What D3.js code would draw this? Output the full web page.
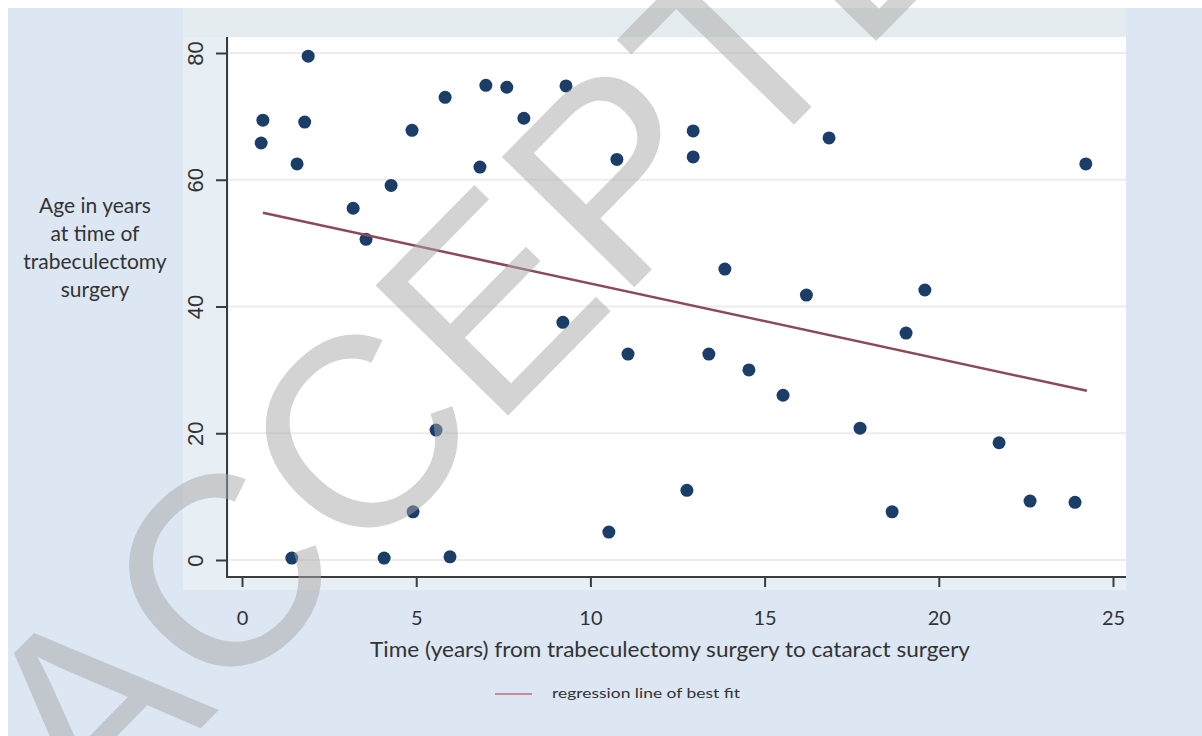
<!DOCTYPE html>
<html>
<head>
<meta charset="utf-8">
<script src="https://cdn.jsdelivr.net/npm/d3@7"></script>
<style>
  body { margin: 0; background: #fff; }
  svg { display: block; }
</style>
</head>
<body>
<div id="chart"></div>
<script>
// scatter of age vs time between surgeries
const timeYears = [0.55, 0.6, 1.43, 1.58, 1.8, 1.9, 3.19, 3.56, 4.28, 4.08, 4.88, 4.91, 5.57, 5.83, 5.97,
  6.83, 7.0, 7.6, 8.09, 9.3, 9.21, 10.53, 10.76, 11.08, 12.95, 12.95, 12.77, 13.4, 13.86, 14.55,
  15.53, 16.2, 16.85, 17.74, 18.66, 19.06, 19.6, 21.73, 22.62, 23.91, 24.22];
const ageYears = [65.8, 69.4, 0.3, 62.5, 69.1, 79.5, 55.5, 50.6, 59.1, 0.3, 67.8, 7.6, 20.5, 73.0, 0.5,
  62.0, 74.9, 74.6, 69.7, 74.8, 37.5, 4.4, 63.2, 32.5, 67.7, 63.6, 11.0, 32.5, 45.9, 30.0,
  26.0, 41.8, 66.6, 20.8, 7.6, 35.8, 42.6, 18.5, 9.3, 9.1, 62.5];

// regression line end points
const fitX = [0.6, 24.25];
const fitY = [54.8, 26.7];

const xTicks = [0, 5, 10, 15, 20, 25];
const yTicks = [0, 20, 40, 60, 80];
const yTitleLines = ['Age in years', 'at time of', 'trabeculectomy', 'surgery'];
const xTitle = 'Time (years) from trabeculectomy surgery to cataract surgery';
const legendLabel = 'regression line of best fit';
const watermark = 'ACCEPTED';

const W = 1202, H = 736;
const plot = { left: 229, right: 1126, top: 37, bottom: 577 };

const svg = d3.select('#chart').append('svg').attr('width', W).attr('height', H);

// backgrounds
svg.append('rect').attr('x', 8).attr('y', 8).attr('width', W - 8).attr('height', H - 8).attr('fill', '#dce7f3');
svg.append('rect').attr('x', 183).attr('y', 8).attr('width', plot.right - 183).attr('height', 590 - 8).attr('fill', '#e7eef4');
svg.append('rect').attr('x', 183).attr('y', 8).attr('width', plot.right - 183).attr('height', plot.top - 8).attr('fill', '#e5ecef');
svg.append('rect').attr('x', plot.left).attr('y', plot.top)
  .attr('width', plot.right - plot.left).attr('height', plot.bottom - plot.top).attr('fill', '#ffffff');

const x = d3.scaleLinear().domain([0, 25]).range([242, 1113]);
const y = d3.scaleLinear().domain([0, 80]).range([560, 53]);

// gridlines
svg.append('g').selectAll('line').data(yTicks).enter().append('line')
  .attr('x1', plot.left).attr('x2', plot.right)
  .attr('y1', d => y(d)).attr('y2', d => y(d))
  .attr('stroke', '#ececec').attr('stroke-width', 2);

// axes
const gx = svg.append('g').attr('transform', `translate(0,${plot.bottom})`)
  .call(d3.axisBottom(x).tickValues(xTicks).tickSize(10).tickSizeOuter(0).tickPadding(24));
gx.select('.domain').remove();
gx.selectAll('line').attr('stroke', '#3c3c3c').attr('stroke-width', 2);
gx.selectAll('text').attr('font-family', 'Lato, sans-serif').attr('font-size', 20).attr('fill', '#333');

const gy = svg.append('g').attr('transform', `translate(${plot.left - 2},0)`)
  .call(d3.axisLeft(y).tickValues(yTicks).tickSize(11).tickSizeOuter(0));
gy.select('.domain').remove();
gy.selectAll('line').attr('stroke', '#3c3c3c').attr('stroke-width', 2);
gy.selectAll('text')
  .attr('x', null).attr('dy', null)
  .attr('transform', 'translate(-24,0) rotate(-90)')
  .attr('text-anchor', 'middle')
  .attr('font-family', '"Liberation Sans", Arial, sans-serif').attr('font-size', 22).attr('fill', '#333');

svg.append('line').attr('x1', plot.left - 2).attr('x2', plot.left - 2).attr('y1', plot.top).attr('y2', plot.bottom + 1)
  .attr('stroke', '#3c3c3c').attr('stroke-width', 2);
svg.append('line').attr('x1', plot.left - 2).attr('x2', plot.right).attr('y1', plot.bottom).attr('y2', plot.bottom)
  .attr('stroke', '#3c3c3c').attr('stroke-width', 2);

// points
const points = timeYears.map((t, i) => ({ t, age: ageYears[i] }));
svg.append('g').selectAll('circle').data(points).enter().append('circle')
  .attr('cx', d => x(d.t)).attr('cy', d => y(d.age)).attr('r', 6.5)
  .attr('fill', '#1b3e69');

// regression line
svg.append('path')
  .datum(fitX.map((v, i) => [v, fitY[i]]))
  .attr('d', d3.line().x(d => x(d[0])).y(d => y(d[1])))
  .attr('fill', 'none').attr('stroke', '#8c4a58').attr('stroke-width', 2.5);

// titles
svg.append('text').attr('x', 670).attr('y', 657).attr('text-anchor', 'middle')
  .attr('font-family', 'Lato, sans-serif').attr('font-size', 21).attr('fill', '#333')
  .attr('textLength', 600).attr('lengthAdjust', 'spacingAndGlyphs').text(xTitle);

svg.append('g').selectAll('text').data(yTitleLines).enter().append('text')
  .attr('x', 95).attr('y', (d, i) => 213 + i * 28).attr('text-anchor', 'middle')
  .attr('font-family', 'Lato, sans-serif').attr('font-size', 21).attr('fill', '#333')
  .text(d => d);

// legend
svg.append('line').attr('x1', 495).attr('x2', 532).attr('y1', 694).attr('y2', 694)
  .attr('stroke', '#c98aa0').attr('stroke-width', 2);
svg.append('text').attr('x', 552).attr('y', 698)
  .attr('font-family', 'Lato, sans-serif').attr('font-size', 14).attr('fill', '#333')
  .attr('textLength', 188).attr('lengthAdjust', 'spacingAndGlyphs').text(legendLabel);

// watermark on top
svg.append('text')
  .attr('transform', 'translate(93,838) rotate(-45.5)')
  .attr('font-family', '"Liberation Sans", Arial, sans-serif').attr('font-size', 270)
  .attr('fill', '#a8a8a8').attr('fill-opacity', 0.5)
  .text(watermark);
</script>
</body>
</html>
